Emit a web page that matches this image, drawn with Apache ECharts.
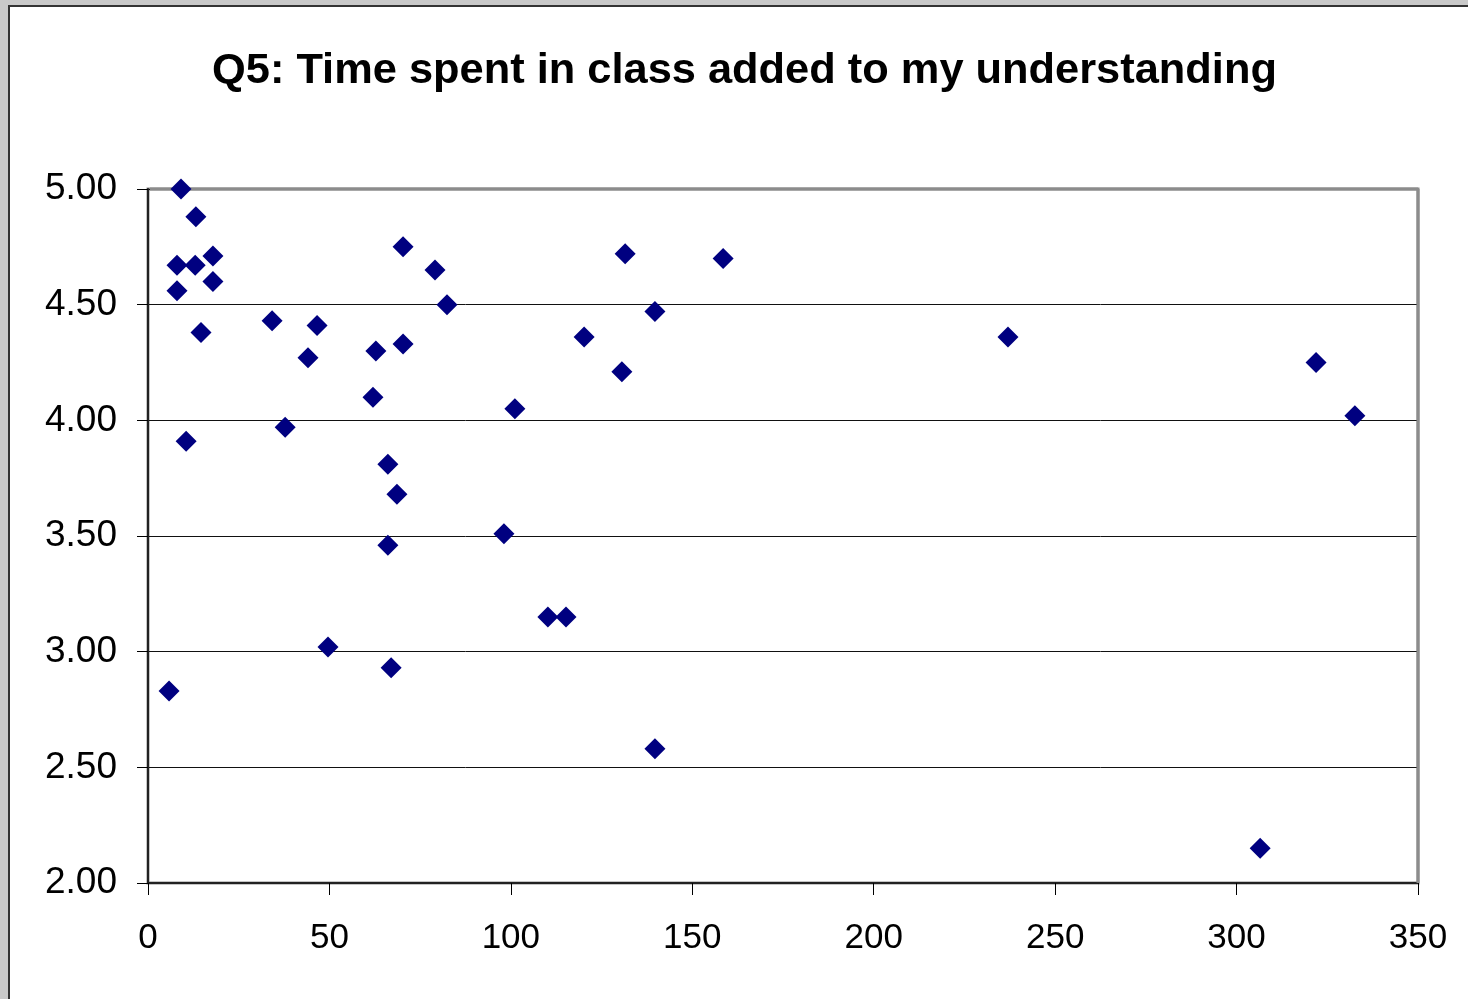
<!DOCTYPE html>
<html>
<head>
<meta charset="utf-8">
<script src="https://cdn.jsdelivr.net/npm/echarts@6/dist/echarts.min.js"></script>
<style>
  html, body { margin: 0; padding: 0; width: 1468px; height: 999px; overflow: hidden; background: #c9c9c9; }
  #frame { position: absolute; left: 8px; top: 5px; width: 1470px; height: 1010px; background: #fff; border-left: 2px solid #333; border-top: 2px solid #333; box-sizing: border-box; }
  #chart { position: absolute; left: 0; top: 0; width: 1468px; height: 999px; }
</style>
</head>
<body>
<div id="frame"></div>
<div id="chart"></div>
<script>
// Minutes / time spent (x) and mean rating (y)
const timeSpent = [9.1, 13.2, 8.0, 13.0, 17.9, 8.0, 17.9, 14.6, 10.5, 34.2, 37.8, 44.1, 46.6, 49.6, 5.8,
                   62.8, 62.0, 66.1, 68.6, 66.1, 67.0, 70.3, 70.3, 79.1, 82.4, 101.1, 98.1, 110.2, 115.2,
                   120.2, 131.5, 130.6, 139.7, 139.7, 158.5, 237.0, 306.5, 321.9, 332.6];
const rating    = [5.00, 4.88, 4.67, 4.67, 4.71, 4.56, 4.60, 4.38, 3.91, 4.43, 3.97, 4.27, 4.41, 3.02, 2.83,
                   4.30, 4.10, 3.81, 3.68, 3.46, 2.93, 4.75, 4.33, 4.65, 4.50, 4.05, 3.51, 3.15, 3.15,
                   4.36, 4.72, 4.21, 4.47, 2.58, 4.70, 4.36, 2.15, 4.25, 4.02];
const xTicks = [0, 50, 100, 150, 200, 250, 300, 350];
const yTicks = [2.0, 2.5, 3.0, 3.5, 4.0, 4.5, 5.0];
const chartTitle = 'Q5: Time spent in class added to my understanding';

const points = timeSpent.map((x, i) => [x, rating[i]]);
const xMin = xTicks[0], xMax = xTicks[xTicks.length - 1];
const yMin = yTicks[0], yMax = yTicks[yTicks.length - 1];

const chart = echarts.init(document.getElementById('chart'));
chart.setOption({
  animation: false,
  backgroundColor: 'transparent',
  title: {
    text: chartTitle,
    left: 207,
    top: 45,
    textStyle: { fontFamily: 'Liberation Sans', fontWeight: 'bold', fontSize: 43.4, color: '#000' }
  },
  grid: {
    left: 148, right: 50, top: 189, bottom: 116,
    show: true, borderColor: '#8c8c8c', borderWidth: 3, backgroundColor: '#fff'
  },
  xAxis: {
    type: 'value',
    min: xMin, max: xMax, interval: 50,
    axisLine: { show: true, onZero: false, lineStyle: { color: '#222', width: 2 } },
    axisTick: { show: true, length: 12, lineStyle: { color: '#000', width: 1 } },
    splitLine: { show: false },
    axisLabel: { margin: 38, fontFamily: 'Liberation Sans', fontSize: 35, color: '#000' }
  },
  yAxis: {
    type: 'value',
    min: yMin, max: yMax, interval: 0.5,
    axisLine: { show: true, onZero: false, lineStyle: { color: '#222', width: 2 } },
    axisTick: { show: true, length: 11, inside: false, lineStyle: { color: '#000', width: 1 } },
    splitLine: { show: true, lineStyle: { color: '#111', width: 1 } },
    axisLabel: { margin: 31, fontFamily: 'Liberation Sans', fontSize: 37, color: '#000',
                 formatter: v => v.toFixed(2) }
  },
  series: [{
    type: 'scatter',
    data: points,
    symbol: 'diamond',
    symbolSize: 21,
    z: 10,
    itemStyle: { color: '#000080', opacity: 1 }
  }]
});

// grey plot-area border on top and right edges (drawn over the top split line)
const tl = chart.convertToPixel({ gridIndex: 0 }, [xMin, yMax]);
const br = chart.convertToPixel({ gridIndex: 0 }, [xMax, yMin]);
chart.setOption({
  graphic: [
    { type: 'line', z: 5, shape: { x1: tl[0] + 2, y1: tl[1], x2: br[0], y2: tl[1] },
      style: { stroke: '#8c8c8c', lineWidth: 3 } },
    { type: 'line', z: 5, shape: { x1: br[0], y1: tl[1], x2: br[0], y2: br[1] },
      style: { stroke: '#8c8c8c', lineWidth: 3 } }
  ]
});
</script>
</body>
</html>
